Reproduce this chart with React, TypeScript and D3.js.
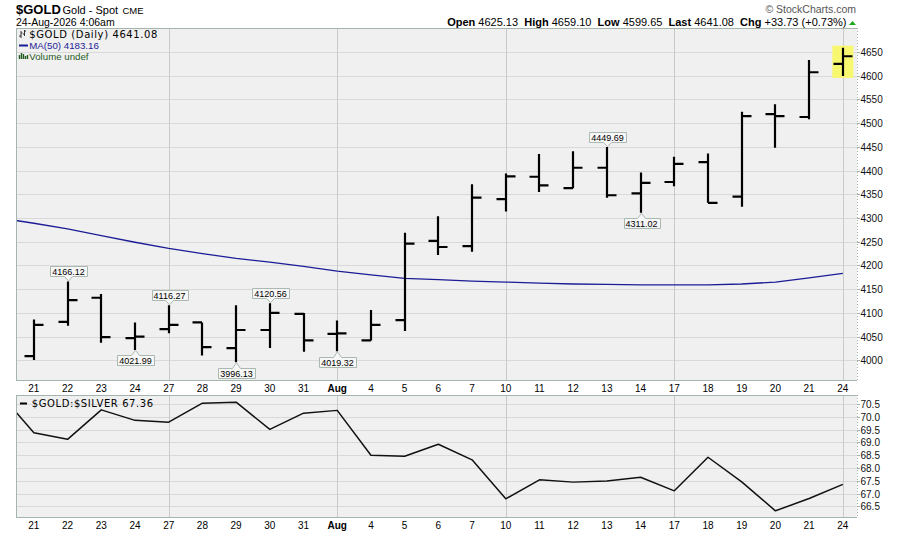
import React, { useEffect, useRef } from 'react';
import * as d3 from 'd3';

// Trading days (Jul 21 – Aug 24)
const dates = ['21', '22', '23', '24', '27', '28', '29', '30', '31', 'Aug', '4', '5', '6', '7', '10', '11', '12', '13', '14', '17', '18', '19', '20', '21', '24'];
// indices of Mondays (week starts) that carry a vertical grid line
const weekStarts = [4, 9, 14, 19, 24];
const boldDates = ['Aug'];

const opens = [4009, 4081, 4132, 4047, 4066, 4080, 4026, 4064, 4098, 4056, 4042, 4085, 4252, 4241, 4340, 4387, 4363, 4406, 4352, 4376, 4418, 4345, 4519, 4513, 4625.13];
const highs = [4086, 4166.12, 4140, 4080, 4116.27, 4080, 4116, 4120.56, 4100, 4084, 4106, 4269, 4304, 4371, 4394, 4435, 4441, 4449.69, 4396, 4429, 4436, 4524, 4540, 4633, 4659.10];
const lows = [4001, 4073, 4037, 4021.99, 4057, 4010, 3996.13, 4026, 4018, 4019.32, 4042, 4062, 4222, 4229, 4314, 4355, 4363, 4343, 4311.02, 4367, 4332, 4324, 4448, 4508, 4599.65];
const closes = [4075, 4127, 4049, 4050, 4075, 4028, 4064, 4100, 4042, 4057, 4075, 4246, 4239, 4343, 4388, 4369, 4406, 4348, 4374, 4414, 4332, 4515, 4515, 4607.35, 4641.08];

// 50-day moving average; first value belongs to the session before Jul 21
const maPrior = 4300;
const ma50 = [4289, 4277, 4263, 4249, 4236, 4225, 4215, 4207, 4198, 4188, 4180, 4173, 4170, 4167, 4165, 4163, 4161, 4160, 4159, 4159, 4159, 4161, 4165, 4174, 4183.16];

// $GOLD:$SILVER ratio
const ratioPrior = 70.9;
const ratio = [69.38, 69.12, 70.27, 69.86, 69.79, 70.53, 70.57, 69.51, 70.14, 70.25, 68.50, 68.46, 68.93, 68.32, 66.80, 67.54, 67.45, 67.49, 67.64, 67.11, 68.42, 67.46, 66.33, 66.81, 67.36];

// annotated highs / lows (bar indices)
const highLabels = [1, 4, 7, 17];
const lowLabels = [3, 6, 9, 18];

const priceTicks = [4000, 4050, 4100, 4150, 4200, 4250, 4300, 4350, 4400, 4450, 4500, 4550, 4600, 4650];
const ratioTicks = [66.5, 67.0, 67.5, 68.0, 68.5, 69.0, 69.5, 70.0, 70.5];

const SANS = "'Liberation Sans', Arial, sans-serif";
const VER = "'DejaVu Sans', Verdana, sans-serif";

export default function App() {
  const ref = useRef<SVGSVGElement>(null);

  useEffect(() => {
    const svg = d3.select(ref.current);
    svg.selectAll('*').remove();

    const L = 16, R = 857;
    const pTop = 28, pBot = 381;
    const rTop = 395, rBot = 518;
    const n = dates.length;

    const x = d3.scaleLinear().domain([-0.53, n - 1 + 0.42]).range([L, R]);
    const y = d3.scaleLinear().domain([3956.5, 4700.6]).range([pBot, pTop]);
    const yr = d3.scaleLinear().domain([66.05, 70.85]).range([rBot, rTop]);

    const border = '#a3b5ad';
    const gridC = '#d9d9d9';
    const vgridC = '#c6cac8';

    const defs = svg.append('defs');
    defs.append('clipPath').attr('id', 'clipTop').append('rect')
      .attr('x', L).attr('y', pTop).attr('width', R - L).attr('height', pBot - pTop);
    defs.append('clipPath').attr('id', 'clipBot').append('rect')
      .attr('x', L).attr('y', rTop).attr('width', R - L).attr('height', rBot - rTop);

    // ---------- header ----------
    const hdr = svg.append('g');
    hdr.append('text').attr('x', 16).attr('y', 14).attr('font-family', SANS)
      .attr('font-size', 13).attr('font-weight', 'bold').text('$GOLD');
    hdr.append('text').attr('x', 62.5).attr('y', 13.5).attr('font-family', SANS)
      .attr('font-size', 11).text('Gold - Spot');
    hdr.append('text').attr('x', 122.5).attr('y', 13.5).attr('font-family', SANS)
      .attr('font-size', 9.5).text('CME');
    hdr.append('text').attr('x', 16).attr('y', 26).attr('font-family', SANS)
      .attr('font-size', 10.5).text('24-Aug-2026 4:06am');
    hdr.append('text').attr('x', 856).attr('y', 12.5).attr('text-anchor', 'end')
      .attr('font-family', SANS).attr('font-size', 10.5).attr('fill', '#555').text('\u00A9 StockCharts.com');

    const last = n - 1;
    const chg = closes[last] - closes[last - 1];
    const pct = (chg / closes[last - 1]) * 100;
    const f2 = d3.format('.2f');
    const parts: [string, boolean][] = [
      ['Open', true], [' ' + f2(opens[last]) + '  ', false],
      ['High', true], [' ' + f2(highs[last]) + '  ', false],
      ['Low', true], [' ' + f2(lows[last]) + '  ', false],
      ['Last', true], [' ' + f2(closes[last]) + '  ', false],
      ['Chg', true], [' ' + (chg >= 0 ? '+' : '') + f2(chg) + ' (' + (pct >= 0 ? '+' : '') + f2(pct) + '%)', false],
    ];
    const ohlcText = hdr.append('text').attr('x', 846.5).attr('y', 26).attr('text-anchor', 'end')
      .attr('font-family', SANS).attr('font-size', 11).style('white-space', 'pre');
    parts.forEach(([t, b]) => {
      ohlcText.append('tspan').attr('font-weight', b ? 'bold' : 'normal').text(t);
    });
    hdr.append('path').attr('d', 'M849,25 L856,25 L852.5,21 Z').attr('fill', '#1aaa1a');

    // ---------- panel backgrounds ----------
    svg.append('rect').attr('x', L).attr('y', pTop).attr('width', R - L).attr('height', pBot - pTop).attr('fill', '#f0f0f0');
    svg.append('rect').attr('x', L).attr('y', rTop).attr('width', R - L).attr('height', rBot - rTop).attr('fill', '#f0f0f0');

    // grids
    const gTop = svg.append('g').attr('shape-rendering', 'crispEdges');
    gTop.selectAll('line.h').data(priceTicks).join('line')
      .attr('x1', L).attr('x2', R).attr('y1', (d) => Math.round(y(d)) + 0.5).attr('y2', (d) => Math.round(y(d)) + 0.5)
      .attr('stroke', gridC);
    gTop.selectAll('line.v').data(weekStarts).join('line')
      .attr('y1', pTop).attr('y2', pBot).attr('x1', (d) => Math.round(x(d)) + 0.5).attr('x2', (d) => Math.round(x(d)) + 0.5)
      .attr('stroke', vgridC);

    const gBot = svg.append('g').attr('shape-rendering', 'crispEdges');
    gBot.selectAll('line.h').data(ratioTicks).join('line')
      .attr('x1', L).attr('x2', R).attr('y1', (d) => Math.round(yr(d)) + 0.5).attr('y2', (d) => Math.round(yr(d)) + 0.5)
      .attr('stroke', gridC);
    gBot.selectAll('line.v').data(weekStarts).join('line')
      .attr('y1', rTop).attr('y2', rBot).attr('x1', (d) => Math.round(x(d)) + 0.5).attr('x2', (d) => Math.round(x(d)) + 0.5)
      .attr('stroke', vgridC);

    // ---------- MA line ----------
    const maPts: [number, number][] = [[-1, maPrior], ...ma50.map((v, i) => [i, v] as [number, number])];
    svg.append('path').attr('clip-path', 'url(#clipTop)')
      .attr('d', d3.line<[number, number]>().x((d) => x(d[0])).y((d) => y(d[1]))(maPts) as string)
      .attr('fill', 'none').attr('stroke', '#1c1c96').attr('stroke-width', 1.3);

    // ---------- highlight last bar ----------
    svg.append('rect')
      .attr('x', x(last) - 10.5).attr('width', 21)
      .attr('y', y(highs[last]) - 2).attr('height', y(lows[last]) - y(highs[last]) + 4)
      .attr('fill', '#f8f870');

    // ---------- OHLC bars ----------
    const tick = 9.5;
    svg.append('g').selectAll('path').data(dates.map((_, i) => i)).join('path')
      .attr('d', (i) => {
        const cx = Math.round(x(i));
        return `M${cx},${y(highs[i])}V${y(lows[i])}M${cx - tick},${y(opens[i])}H${cx}M${cx},${y(closes[i])}H${cx + tick}`;
      })
      .attr('fill', 'none').attr('stroke', '#000').attr('stroke-width', 2.2);

    // ---------- annotations ----------
    const ann = svg.append('g');
    const drawLabel = (i: number, value: number, up: boolean) => {
      const cx = Math.round(x(i)) + 0.5;
      const g = ann.append('g');
      const t = g.append('text').attr('font-family', SANS).attr('font-size', 9).attr('text-anchor', 'middle')
        .attr('x', cx).text(f2(value));
      const tw = (t.node() as SVGTextElement).getComputedTextLength();
      const w = Math.round(tw + 4);
      const h = 10;
      const left = Math.round(cx - w / 2) + 0.5;
      const right = left + w;
      let d: string;
      if (up) {
        const tip = y(value) - 0.5;
        const bottom = Math.round(tip - 5) + 0.5;
        const top = bottom - h;
        d = `M${left},${top}H${right}V${bottom}H${cx + 4}L${cx},${tip}L${cx - 4},${bottom}H${left}Z`;
        t.attr('y', bottom - 2);
      } else {
        const tip = y(value) + 0.5;
        const top = Math.round(tip + 5) + 0.5;
        const bottom = top + h;
        d = `M${left},${top}H${cx - 4}L${cx},${tip}L${cx + 4},${top}H${right}V${bottom}H${left}Z`;
        t.attr('y', bottom - 2);
      }
      g.insert('path', 'text').attr('d', d).attr('fill', '#f7f7f7').attr('stroke', '#a9b9b1').attr('stroke-width', 1);
    };
    highLabels.forEach((i) => drawLabel(i, highs[i], true));
    lowLabels.forEach((i) => drawLabel(i, lows[i], false));

    // ---------- ratio line ----------
    const rPts: [number, number][] = [[-1, ratioPrior], ...ratio.map((v, i) => [i, v] as [number, number])];
    svg.append('path').attr('clip-path', 'url(#clipBot)')
      .attr('d', d3.line<[number, number]>().x((d) => x(d[0])).y((d) => yr(d[1]))(rPts) as string)
      .attr('fill', 'none').attr('stroke', '#111').attr('stroke-width', 1.5).attr('stroke-linejoin', 'round');

    // ---------- borders ----------
    const b = svg.append('g').attr('shape-rendering', 'crispEdges').attr('fill', 'none');
    [[pTop, pBot], [rTop, rBot]].forEach(([t0, b0]) => {
      b.append('path').attr('d', `M${R},${t0 + 0.5}H${L + 0.5}V${b0 - 0.5}H${R}`).attr('stroke', border).attr('stroke-width', 1.5);
      b.append('line').attr('x1', R + 0.5).attr('x2', R + 0.5).attr('y1', t0).attr('y2', b0)
        .attr('stroke', border).attr('stroke-width', 1.5).attr('stroke-dasharray', '1,2');
    });

    // ---------- right axes ----------
    const ax = svg.append('g').attr('font-family', SANS).attr('font-size', 10).attr('fill', '#111');
    priceTicks.forEach((v) => {
      const yy = Math.round(y(v)) + 0.5;
      ax.append('line').attr('x1', R).attr('x2', R + 3).attr('y1', yy).attr('y2', yy).attr('stroke', border);
      ax.append('text').attr('x', R + 3.5).attr('y', yy).attr('dy', '0.35em').text(String(v));
    });
    ratioTicks.forEach((v) => {
      const yy = Math.round(yr(v)) + 0.5;
      ax.append('line').attr('x1', R).attr('x2', R + 3).attr('y1', yy).attr('y2', yy).attr('stroke', border);
      ax.append('text').attr('x', R + 3.5).attr('y', yy).attr('dy', '0.35em').text(d3.format('.1f')(v));
    });

    // ---------- date axes ----------
    [392, 529].forEach((by) => {
      svg.append('g').selectAll('text').data(dates).join('text')
        .attr('x', (_, i) => x(i)).attr('y', by).attr('text-anchor', 'middle')
        .attr('font-family', SANS).attr('font-size', 10)
        .attr('font-weight', (d) => (boldDates.includes(d) ? 'bold' : 'normal'))
        .text((d) => d);
    });

    // ---------- legends ----------
    const lg = svg.append('g');
    // OHLC icon
    lg.append('path').attr('d', 'M21,31V38M19,36H21M21,33H22.5M24.5,30V36M23,34H24.5M24.5,31H26')
      .attr('stroke', '#333').attr('stroke-width', 1).attr('fill', 'none');
    lg.append('text').attr('x', 29.3).attr('y', 38.3).attr('font-family', VER).attr('font-size', 10)
      .attr('letter-spacing', 0.6).text(`$GOLD (Daily) ${f2(closes[last])}`);
    lg.append('line').attr('x1', 19).attr('x2', 28).attr('y1', 45.5).attr('y2', 45.5)
      .attr('stroke', '#1c1c96').attr('stroke-width', 2);
    lg.append('text').attr('x', 29.3).attr('y', 49.3).attr('font-family', SANS).attr('font-size', 9.7)
      .attr('fill', '#1c1c96').text(`MA(50) ${f2(ma50[last])}`);
    lg.append('path').attr('d', 'M19.5,59V55M21.5,59V53M23.5,59V54M25.5,59V56M27.5,59V55')
      .attr('stroke', '#1f5a1f').attr('stroke-width', 1.4);
    lg.append('text').attr('x', 29.3).attr('y', 60).attr('font-family', SANS).attr('font-size', 9.7)
      .attr('fill', '#1f5a1f').text('Volume undef');

    lg.append('line').attr('x1', 20).attr('x2', 27).attr('y1', 403.5).attr('y2', 403.5)
      .attr('stroke', '#000').attr('stroke-width', 2);
    lg.append('text').attr('x', 31.7).attr('y', 406.7).attr('font-family', VER).attr('font-size', 10)
      .attr('letter-spacing', 0.6).text(`$GOLD:$SILVER ${f2(ratio[last])}`);
  }, []);

  return (
    <svg
      ref={ref}
      width={900}
      height={534}
      style={{ position: 'absolute', left: 0, top: 0, background: '#fff', display: 'block' }}
    />
  );
}
